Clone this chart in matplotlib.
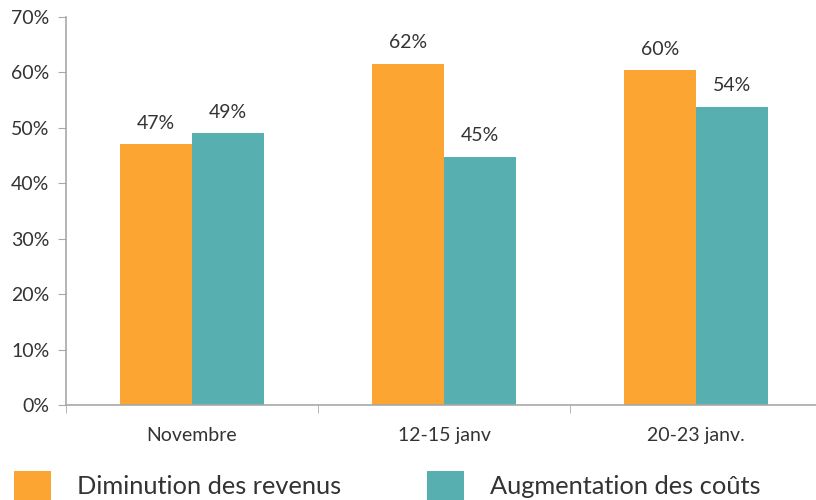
import numpy as np
import matplotlib.pyplot as plt

plt.rcParams['font.family'] = ['Lato', 'DejaVu Sans']

periods = ["Novembre", "12-15 janv", "20-23 janv."]
revenus = [47.0, 61.6, 60.4]
couts = [49.0, 44.8, 53.8]
series_names = ["Diminution des revenus", "Augmentation des coûts"]
yticks = [0, 10, 20, 30, 40, 50, 60, 70]

orange = "#FDA532"
teal = "#57B0AF"
txt = "#333333"
grey = "#A8A8A8"

fig = plt.figure(figsize=(8.16, 5.0), dpi=100)
ax = fig.add_axes([66 / 816, 95 / 500, 756 / 816, 388 / 500])

x = np.arange(len(periods))
w = 0.286
b1 = ax.bar(x - w / 2, revenus, w, color=orange, label=series_names[0])
b2 = ax.bar(x + w / 2, couts, w, color=teal, label=series_names[1])

for bars in (b1, b2):
    ax.bar_label(bars, labels=[f"{v:.0f}%" for v in bars.datavalues],
                 padding=9, fontsize=14, color=txt)

ax.set_xlim(-0.5, 2.5)
ax.set_ylim(0, 70)
ax.set_yticks(yticks)
ax.set_yticklabels([f"{t}%" for t in yticks])
ax.set_xticks(x)
ax.set_xticklabels(periods)
ax.set_xticks(np.arange(-0.5, 3, 1), minor=True)

ax.tick_params(axis='y', length=6, color=grey, labelsize=14, labelcolor=txt, pad=6)
ax.tick_params(axis='x', which='major', length=0, labelsize=14, labelcolor=txt, pad=16)
ax.tick_params(axis='x', which='minor', length=6, color=grey)

for s in ("top", "right"):
    ax.spines[s].set_visible(False)
for s in ("left", "bottom"):
    ax.spines[s].set_color(grey)
    ax.spines[s].set_linewidth(1.2)

fig.legend(handles=[b1, b2], loc='upper left', bbox_to_anchor=(0.005, 0.079),
           ncol=2, frameon=False, fontsize=18.3, labelcolor=txt,
           handlelength=1.46, handleheight=1.46, handletextpad=1.0,
           columnspacing=3.4, borderaxespad=0)

fig.savefig("out.png", dpi=100)
